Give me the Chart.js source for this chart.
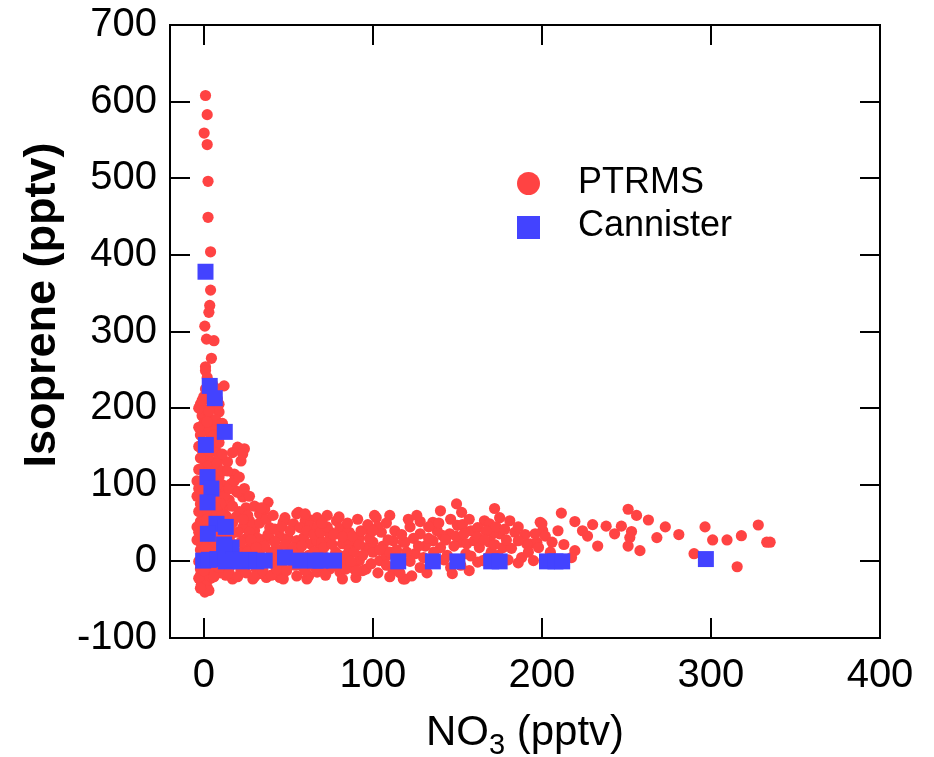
<!DOCTYPE html>
<html><head><meta charset="utf-8">
<script src="https://cdn.jsdelivr.net/npm/chart.js@4/dist/chart.umd.min.js"></script>
<style>html,body{margin:0;padding:0;background:#fff}canvas{display:block}</style>
</head><body>
<canvas id="c" width="934" height="757"></canvas>
<script>
// ---- data ----
const xTickValues = [0, 100, 200, 300, 400];
const yTickValues = [-100, 0, 100, 200, 300, 400, 500, 600, 700];
const seriesNames = ['PTRMS', 'Cannister'];
const xAxisTitle = ['NO', '3', ' (pptv)'];
const yAxisTitle = 'Isoprene (pptv)';

const ptrmsNO3 = [
  1,2,0.2,2,2.5,2.5,4,4,3.5,3,
  0.6,1.6,6,4.5,1,1,12,2,5,3,
  7,0,-2,4,8,1,6,-1,3,9,
  0,5,2,7,-2,4,10,1,6,-1,
  3,8,0,5,9,2,-3,7,4,0,
  -4,9,2,6,-1,4,10,1,7,-2,
  3,5,0,8,-2,4,10,1,6,-1,
  3,9,0,5,-2,2,7,-1,4,0,
  6,-2,3,1,-1,4,-1.4,0.6,2,-2,
  11,12,11,14,20,24,17,22,23,18,
  16,13,19,23,25,38,36,33,27,23,
  15,13,17,20,14,18,25,30,12,16,
  20,24,28,32,35,40,11,17,29,37,
  22,26,31,42,48,55,62,67,73,78.5,
  56,47,53,60,63,67,72,75,80.5,85,
  101,110,98,105,112,118,92,88,96,100,
  92,96,89,39,39,35,45,50,55,59,
  63,67,70,74.5,82,86,33,45,55,62,
  67,80.5,74.5,118,104,108,82,47,61,82,
  90,94,102,86,90,44,50,56,62,68,
  72,78,84,46,52,58,64,70,76,86,
  94,100,106,110,114,108,112,149.5,152.5,140,
  135.5,172,175,166,169,181,184,175,171,150,
  158,145.5,141,128,124,135.5,131,140,151.5,155.5,
  160,163,169,177,182,158,162,165,119,123,
  147,193,197,200.5,195,199,196,191,125,130,
  136,144,148,122,128,138,155,170,211.5,219.5,
  209.5,200,202,227,233,238,219.5,217.5,205,251,
  256,263,253,252,251,258,268,273,281,290,
  296.5,301,309.5,318,328,333,335,315.5,119,116,
  -3,1,5,9,-1,3,7,11,-3,2,
  6,9,-3,3,8,11,-2,1,5,11,
  -3,3,8,12,-4,5,10,-3,2,7,
  11,-4,2,8,12,-3,5,11,-4,1,
  7,11,-3,3,8,10,-2,5,2,-3,
  6,1,3,-2,0,14,13,15,9,12,
  15,18,21,14,20,24,27,17,21,26,
  30,34,19,23,29,33,37,41,15,27,
  32,38,42,16,22,28,36,42,14,19,
  24,29,34,39,44,15,20,25,30,35,
  40,43,26,31,21,
  46,51,57,61,65,69,73,77,82,88,
  93,97,103,108,113,117,48,53,58,65,
  71,76,80,89,92,98,104,109,115,120,
  49,54,60,66,72,77,84,87,99,103,
  110,116,47,58,85,91,80,60,70,100,
  121,126,133,139,146,153,157,162,167,173,
  178,186,190,127,133,143,149,154,162,166,
  172,179,186,122,128,134,142,146,152,157,
  168,174,180,188,192,198,186,132,
  206,213,224,230,243,247
];
const ptrmsIsoprene = [
  608,583,559,544,496,449,404,354,334,325,
  307,290,288,265,254,249,229,240,232,222,
  226,215,205,210,212,198,200,190,188,195,
  180,178,170,172,165,160,165,155,150,145,
  140,142,132,130,135,124,120,120,112,108,
  105,110,100,98,92,88,90,82,80,75,
  72,65,60,62,52,50,55,44,40,35,
  30,32,22,20,15,10,12,5,2,-5,
  -3,-10,-12,-18,-24,-22,-30,-40,-34,25,
  20,70,100,130,149,147,142,131,140,114,
  101,92,92,84,70,77,68,62,53,44,
  80,60,50,38,30,22,30,40,5,-5,
  10,15,20,8,28,12,-10,-23,-23,-21,
  -12,-2,-10,-5,57,62,55,57,60,53,
  64,51,49,53,47,44,40,38,43,38,
  60,60,40,38,27,25,31,23,18,12,
  1,-10,-10,44,30,18,33,30,27,31,
  23,27,25,30,23,27,-16,-21,-19,-19,
  -14,-14,-10,-23,1,7,-1,-23,-23,-23,
  -21,-12,57,38,-12,15,10,12,8,15,
  5,12,8,-8,0,-6,-2,-8,2,15,
  8,25,20,12,15,-5,-12,75,64,66,
  51,69,57,53,49,53,38,36,36,47,
  40,36,34,36,30,27,20,18,25,23,
  27,18,25,18,17,7,-1,1,-23,-19,
  -16,23,25,40,1,51,36,23,10,5,
  12,8,20,45,52,40,10,12,63,52,
  40,49,33,33,20,46,14,5,12,68,
  60,54,39,31,20,14,31,45,35,10,
  45,28,28,33.5,47.5,25,25,-7,25,-5,
  200,225,218,205,210,196,185,180,175,182,
  165,155,150,150,128,140,135,115,105,118,
  95,92,100,85,85,78,75,65,68,70,
  60,45,55,48,40,38,32,28,28,18,
  25,10,0,-5,-2,-15,-18,-14,-25,-22,
  -20,-32,-38,-35,-12,5,-18,15,-8,48,
  95,105,110,118,90,95,85,72,65,60,
  72,70,58,55,47,50,55,60,45,38,
  30,35,42,35,25,28,20,25,12,2,
  5,0,-2,3,5,-15,-20,-15,-20,-12,
  -18,-10,12,18,-5,
  45,40,44,40,35,38,45,35,32,33,
  40,48,45,50,40,35,22,18,20,12,
  18,22,8,12,22,30,15,28,5,12,
  -12,-5,-12,-8,-18,-5,-10,0,-3,-15,
  -20,-15,2,3,50,55,58,62,50,40,
  55,60,45,50,55,48,55,44,40,45,
  42,45,35,20,30,28,33,36,32,28,
  22,28,27,0,-8,-3,2,-8,-5,-12,
  5,8,2,5,12,18,-2,-15,
  25,22,40,48,36,46
];

const cannisterNO3 = [
  1,3.5,6.5,12.4,1.2,2.2,4.5,2.2,7.5,2.4,
  13,16.4,12,-0.4,3,8,13,18,22,27,
  31,36,48,57,66,69,77,115,135.5,150,
  170,175,203,208,212,297
];
const cannisterIsoprene = [
  378,229,213,169,152,110,95,77,49,36,
  45,18,22,1,2,3,0,2,0,2,
  0,1,5,1,1,1,1,0,0,0,
  0,0,0,0,0,3
];

// ---- styling ----
const RED = '#FF4343';
const BLUE = '#4343FF';
const FONT = '"Liberation Sans", Arial, Helvetica, sans-serif';

const toPoints = (xs, ys) => xs.map((v, i) => ({x: v, y: ys[i]}));

const framePlugin = {
  id: 'frame',
  afterDatasetsDraw(chart) {
    const {ctx, chartArea: a, scales} = chart;
    const sx = scales.x, sy = scales.y;
    ctx.save();
    ctx.strokeStyle = '#000';
    ctx.lineWidth = 2;
    ctx.beginPath();
    ctx.rect(a.left, a.top, a.right - a.left, a.bottom - a.top);
    const tl = 20;
    xTickValues.forEach(v => {
      const p = Math.round(sx.getPixelForValue(v));
      ctx.moveTo(p, a.bottom); ctx.lineTo(p, a.bottom - tl);
      ctx.moveTo(p, a.top); ctx.lineTo(p, a.top + tl);
    });
    yTickValues.forEach(v => {
      const p = Math.round(sy.getPixelForValue(v));
      ctx.moveTo(a.left, p); ctx.lineTo(a.left + tl, p);
      ctx.moveTo(a.right, p); ctx.lineTo(a.right - tl, p);
    });
    ctx.stroke();
    ctx.restore();
  },
  afterDraw(chart) {
    const {ctx, chartArea: a} = chart;
    ctx.save();
    ctx.fillStyle = '#000';
    // x title with subscript
    const big = '42px ' + FONT, small = '29px ' + FONT;
    ctx.font = big;
    const w1 = ctx.measureText(xAxisTitle[0]).width;
    const w3 = ctx.measureText(xAxisTitle[2]).width;
    ctx.font = small;
    const w2 = ctx.measureText(xAxisTitle[1]).width;
    const total = w1 + w2 + w3;
    let x0 = (a.left + a.right) / 2 - total / 2;
    const base = 745;
    ctx.textBaseline = 'alphabetic';
    ctx.textAlign = 'left';
    ctx.font = big; ctx.fillText(xAxisTitle[0], x0, base);
    ctx.font = small; ctx.fillText(xAxisTitle[1], x0 + w1, base + 9);
    ctx.font = big; ctx.fillText(xAxisTitle[2], x0 + w1 + w2, base);
    // y title
    ctx.save();
    ctx.translate(55, 305);
    ctx.rotate(-Math.PI / 2);
    ctx.font = 'bold 45px ' + FONT;
    ctx.textAlign = 'center';
    ctx.textBaseline = 'alphabetic';
    ctx.fillText(yAxisTitle, 0, 0);
    ctx.restore();
    // legend
    ctx.fillStyle = RED;
    ctx.beginPath(); ctx.arc(528.5, 183.5, 11.5, 0, Math.PI * 2); ctx.fill();
    ctx.fillStyle = BLUE;
    ctx.fillRect(517, 216, 23, 23);
    ctx.fillStyle = '#000';
    ctx.font = '36px ' + FONT;
    ctx.textAlign = 'left';
    ctx.textBaseline = 'alphabetic';
    ctx.fillText(seriesNames[0], 578, 193);
    ctx.fillText(seriesNames[1], 578, 236);
    ctx.restore();
  }
};

new Chart(document.getElementById('c'), {
  type: 'scatter',
  data: {
    datasets: [
      {
        label: seriesNames[1],
        data: toPoints(cannisterNO3, cannisterIsoprene),
        pointStyle: 'rect',
        pointRadius: 11.3,
        backgroundColor: BLUE,
        borderWidth: 0,
        order: 0
      },
      {
        label: seriesNames[0],
        data: toPoints(ptrmsNO3, ptrmsIsoprene),
        pointStyle: 'circle',
        pointRadius: 5.6,
        backgroundColor: RED,
        borderWidth: 0,
        order: 1
      }
    ]
  },
  options: {
    responsive: false,
    animation: false,
    layout: {padding: {top: 25, right: 54, left: 0, bottom: 0}},
    plugins: {legend: {display: false}, tooltip: {enabled: false}},
    scales: {
      x: {
        type: 'linear', position: 'bottom', min: -20, max: 400,
        afterBuildTicks: s => { s.ticks = xTickValues.map(v => ({value: v})); },
        afterFit: s => { s.height = 119; s.paddingLeft = 0; s.paddingRight = 0; s.paddingTop = 0; s.paddingBottom = 0; },
        grid: {display: false, drawTicks: false},
        border: {display: false},
        ticks: {color: '#000', font: {family: FONT, size: 40}, padding: 14, maxRotation: 0}
      },
      y: {
        type: 'linear', position: 'left', min: -100, max: 700,
        afterBuildTicks: s => { s.ticks = yTickValues.map(v => ({value: v})); },
        afterFit: s => { s.width = 170; s.paddingTop = 0; s.paddingBottom = 0; s.paddingLeft = 0; s.paddingRight = 0; },
        grid: {display: false, drawTicks: false},
        border: {display: false},
        ticks: {color: '#000', font: {family: FONT, size: 40}, padding: 13}
      }
    }
  },
  plugins: [framePlugin]
});
</script>
</body></html>
